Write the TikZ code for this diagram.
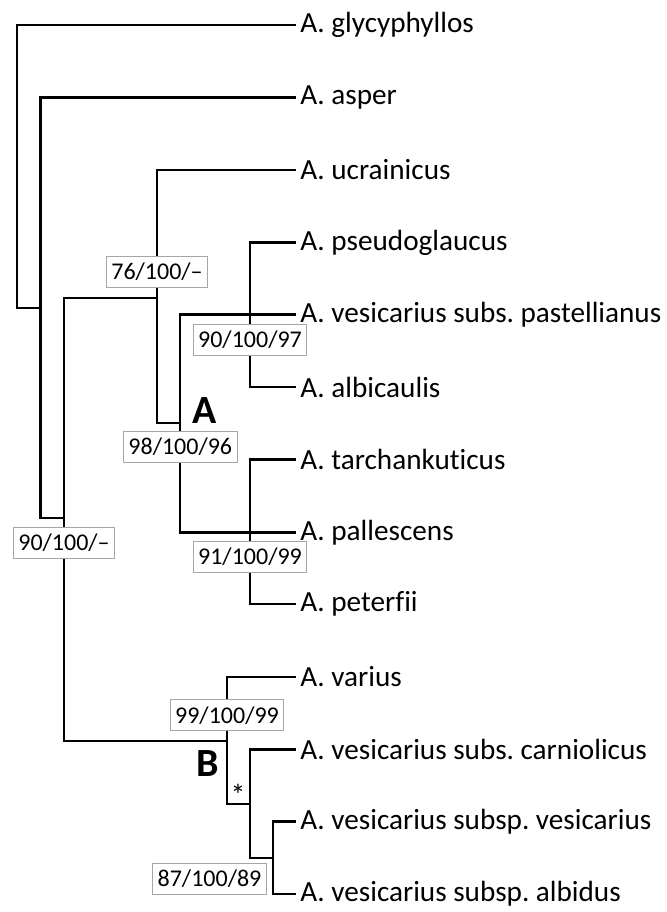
\documentclass[tikz,border=0pt]{standalone}
\usepackage{fontspec}
\setmainfont{Carlito}[Ligatures=NoCommon]
\usepackage{xcolor}
\usepackage{tikz}
\usetikzlibrary{positioning}
\frenchspacing

\begin{document}
\begin{tikzpicture}[x=0.5pt, y=-0.5pt, every node/.style={font=\fontsize{14.6}{17}\selectfont}]
    % Styles
    \tikzstyle{taxon} = [anchor=west, inner xsep=2.5pt, inner ysep=0pt]
    \tikzstyle{branch} = [line width=1.4pt, black, line cap=rect, line join=miter]
    \tikzstyle{support} = [draw=gray!70, line width=0.5pt, fill=white, inner xsep=2.5pt, inner ysep=0pt, minimum height=15.5pt, font=\fontsize{12}{14}\selectfont]
    \tikzstyle{clade} = [font=\fontsize{20}{24}\selectfont\bfseries, inner sep=0pt]

    \useasboundingbox (0,0) rectangle (667,912);

    % Taxa
    \node[taxon] (glyc) at (295,25) {A. glycyphyllos};
    \node[taxon] (asper) at (295,97.5) {A. asper};
    \node[taxon] (ucra) at (295,170) {A. ucrainicus};
    \node[taxon] (pseu) at (295,242.5) {A. pseudoglaucus};
    \node[taxon] (past) at (295,314.5) {A. vesicarius subs. pastellianus};
    \node[taxon] (albi) at (295,387) {A. albicaulis};
    \node[taxon] (tarc) at (295,459.5) {A. tarchankuticus};
    \node[taxon] (pall) at (295,532.5) {A. pallescens};
    \node[taxon] (pete) at (295,604) {A. peterfii};
    \node[taxon] (vari) at (295,677) {A. varius};
    \node[taxon] (carn) at (295,749.5) {A. vesicarius subs. carniolicus};
    \node[taxon] (vesi) at (295,821.5) {A. vesicarius subsp. vesicarius};
    \node[taxon] (albd) at (295,894) {A. vesicarius subsp. albidus};

    % Internal nodes
    \coordinate (root) at (17,308);
    \coordinate (nasp) at (40.7,308);
    \coordinate (nmid) at (64,518);
    \coordinate (nucr) at (157,298);
    \coordinate (nA) at (180,423);
    \coordinate (npas) at (250,314.5);
    \coordinate (npal) at (250,532.5);
    \coordinate (nB) at (227,741);
    \coordinate (ncar) at (250,804);
    \coordinate (nves) at (273,858);

    % Connections
    \draw[branch] (root) |- (glyc.west);
    \draw[branch] (root) |- (nasp);
    \draw[branch] (nasp) |- (asper.west);
    \draw[branch] (nasp) |- (nmid);
    \draw[branch] (nmid) |- (nucr);
    \draw[branch] (nmid) |- (nB);
    \draw[branch] (nucr) |- (ucra.west);
    \draw[branch] (nucr) |- (nA);
    \draw[branch] (nA) |- (past.west);
    \draw[branch] (nA) |- (pall.west);
    \draw[branch] (npas) |- (pseu.west);
    \draw[branch] (npas) |- (albi.west);
    \draw[branch] (npal) |- (tarc.west);
    \draw[branch] (npal) |- (pete.west);
    \draw[branch] (nB) |- (vari.west);
    \draw[branch] (nB) |- (ncar);
    \draw[branch] (ncar) |- (carn.west);
    \draw[branch] (ncar) |- (nves);
    \draw[branch] (nves) |- (vesi.west);
    \draw[branch] (nves) |- (albd.west);

    % Support values
    \node[support] (s1) at (157,271.5) {76/100/--};
    \node[support] (s2) at (250,340) {90/100/97};
    \node[support] (s3) at (180.3,447) {98/100/96};
    \node[support] (s4) at (250,557) {91/100/99};
    \node[support] (s5) at (64,542.5) {90/100/--};
    \node[support] (s6) at (227,715.3) {99/100/99};
    \node[support] (s7) at (209.5,878.8) {87/100/89};

    % Clade labels
    \node[clade] (labA) at (205,410.5) {A};
    \node[clade] (labB) at (208,763.5) {B};
    \node[font=\fontsize{15}{17}\selectfont, inner sep=0pt] (star) at (238,795) {*};
\end{tikzpicture}
\end{document}
